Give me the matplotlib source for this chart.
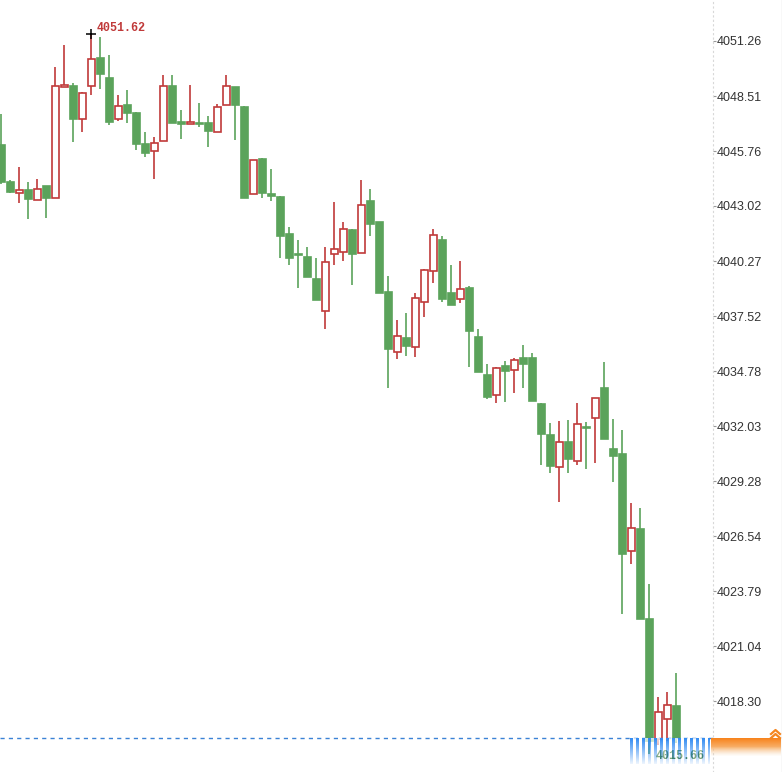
import numpy as np
import matplotlib
matplotlib.use("Agg")
import matplotlib.pyplot as plt

# OHLC (one bar per position)
opens = [4046.07, 4044.24, 4043.66, 4043.82, 4043.31, 4044.00, 4043.43, 4048.95, 4049.01, 4047.38,
         4049.03, 4050.40, 4049.43, 4047.38, 4048.06, 4047.68, 4046.12, 4045.75, 4046.25, 4049.03,
         4047.22, 4047.10, 4047.16, 4047.16, 4046.72, 4048.05, 4048.96, 4047.98, 4043.60, 4045.37,
         4043.63, 4043.47, 4041.62, 4040.60, 4040.46, 4039.37, 4037.79, 4040.61, 4040.74, 4041.82,
         4040.69, 4043.27, 4042.22, 4038.72, 4035.71, 4036.43, 4035.96, 4038.21, 4039.76, 4041.32,
         4038.66, 4038.36, 4038.91, 4036.46, 4034.57, 4033.57, 4035.02, 4034.82, 4035.43, 4035.43,
         4033.13, 4031.59, 4030.00, 4031.22, 4030.27, 4031.98, 4032.42, 4033.92, 4030.89, 4030.64,
         4025.78, 4026.89, 4022.38, 4016.40, 4017.39, 4018.05]
highs = [4047.61, 4044.33, 4044.99, 4044.24, 4044.37, 4044.03, 4049.98, 4051.06, 4049.15, 4048.73,
         4051.62, 4051.47, 4050.56, 4048.56, 4048.81, 4047.73, 4046.73, 4046.45, 4049.56, 4049.56,
         4047.82, 4049.06, 4048.18, 4047.51, 4048.10, 4049.56, 4048.96, 4048.03, 4045.32, 4045.40,
         4044.85, 4043.53, 4041.99, 4041.32, 4040.99, 4040.44, 4040.99, 4043.21, 4042.21, 4041.86,
         4044.32, 4043.87, 4042.22, 4039.52, 4037.33, 4037.66, 4038.69, 4039.89, 4041.89, 4041.52,
         4040.07, 4040.29, 4039.02, 4036.86, 4035.11, 4034.97, 4035.28, 4035.41, 4036.06, 4035.66,
         4033.17, 4032.20, 4032.28, 4032.33, 4033.18, 4032.25, 4033.42, 4035.25, 4032.40, 4031.81,
         4028.17, 4027.93, 4024.13, 4018.52, 4018.75, 4019.72]
lows = [4044.12, 4043.68, 4043.16, 4042.35, 4043.31, 4042.43, 4043.43, 4048.95, 4046.23, 4046.73,
        4048.56, 4048.86, 4047.06, 4047.26, 4047.15, 4045.82, 4045.48, 4044.35, 4046.25, 4047.15,
        4046.35, 4047.10, 4046.98, 4045.95, 4046.72, 4048.05, 4046.32, 4043.43, 4043.60, 4043.43,
        4043.28, 4040.44, 4040.07, 4038.94, 4039.49, 4038.32, 4036.86, 4040.07, 4040.27, 4039.07,
        4040.69, 4041.54, 4038.69, 4033.95, 4035.36, 4035.53, 4035.46, 4037.49, 4039.16, 4038.21,
        4038.09, 4038.16, 4034.97, 4034.75, 4033.38, 4033.17, 4033.22, 4033.67, 4033.92, 4033.30,
        4030.09, 4029.67, 4028.25, 4029.67, 4030.09, 4029.89, 4030.20, 4031.37, 4029.22, 4022.63,
        4025.13, 4022.38, 4015.66, 4016.10, 4016.30, 4016.20]
closes = [4044.22, 4043.74, 4043.82, 4043.36, 4043.87, 4043.43, 4049.01, 4049.06, 4047.38, 4048.65,
          4050.36, 4049.63, 4047.23, 4048.01, 4047.65, 4046.13, 4045.65, 4046.15, 4049.01, 4047.15,
          4047.10, 4047.22, 4047.12, 4046.75, 4047.96, 4049.01, 4048.06, 4043.43, 4045.32, 4043.68,
          4043.53, 4041.54, 4040.44, 4040.55, 4039.49, 4038.32, 4040.21, 4040.89, 4041.86, 4040.64,
          4043.07, 4042.11, 4038.69, 4035.86, 4036.53, 4036.04, 4038.42, 4039.82, 4041.57, 4038.36,
          4038.09, 4038.86, 4036.76, 4034.75, 4033.50, 4034.93, 4034.80, 4035.33, 4035.14, 4033.30,
          4031.65, 4030.05, 4031.22, 4030.37, 4032.12, 4031.91, 4033.42, 4031.37, 4030.55, 4025.63,
          4026.93, 4022.38, 4016.30, 4017.74, 4018.09, 4016.46]

tick_vals = [4051.26, 4048.51, 4045.76, 4043.02, 4040.27, 4037.52, 4034.78,
             4032.03, 4029.28, 4026.54, 4023.79, 4021.04, 4018.30]
tick_labels = ["4051.26", "4048.51", "4045.76", "4043.02", "4040.27", "4037.52", "4034.78",
               "4032.03", "4029.28", "4026.54", "4023.79", "4021.04", "4018.30"]

UP = "#c03a3a"
DOWN = "#5ba35b"

o = np.array(opens)
h = np.array(highs)
l = np.array(lows)
c = np.array(closes)
x = np.arange(len(o))
up = c >= o

W, H = 782, 772
fig = plt.figure(figsize=(W / 100, H / 100), dpi=100)
fig.patch.set_facecolor("white")
ax = fig.add_axes([0, 0, 713 / W, 1])

# wicks
ax.vlines(x, l, h, colors=np.where(up, UP, DOWN), linewidth=1.2, zorder=2)
# bodies: hollow red for up, filled green for down
ax.bar(x, np.abs(c - o), bottom=np.minimum(o, c), width=0.78,
       color=np.where(up, "white", DOWN), edgecolor=np.where(up, UP, DOWN),
       linewidth=1.2, zorder=3)

ax.set_xlim(-0.144, 79.08)
ax.set_ylim(4014.755, 4053.307)

# last price line
ax.axhline(c[-1], color="#3b82d6", linewidth=1, linestyle=(0, (3, 3)), zorder=4)

# high / low markers
ih = int(np.argmax(h))
ax.plot(ih, h[ih], marker="+", color="black", markersize=7, mew=1.1, zorder=5)
ax.annotate(f"{h[ih]:.2f}", (ih, h[ih]), xytext=(5, 6), textcoords="offset pixels",
            color="#c03a3a", fontsize=8.4, fontweight="bold", family="Liberation Mono",
            va="center", ha="left", zorder=5)
il = int(np.argmin(l))
ax.annotate(f"{l[il]:.2f}", (il, l[il]), xytext=(6, -2), textcoords="offset pixels",
            color="#3d7a3d", fontsize=8.4, fontweight="bold", family="Liberation Mono",
            va="center", ha="left", zorder=5)

for side in ["top", "left", "bottom"]:
    ax.spines[side].set_visible(False)
ax.spines["right"].set_color("#d8d8d8")
ax.spines["right"].set_linestyle((0, (1, 3)))
ax.yaxis.tick_right()
ax.set_yticks(tick_vals)
ax.set_yticklabels(tick_labels)
ax.tick_params(axis="y", length=2, width=0.8, color="#999999", pad=1,
               labelsize=9, labelcolor="#333333")
for t in ax.get_yticklabels():
    t.set_family("Liberation Sans")
ax.set_xticks([])
ax.patch.set_alpha(0)

# overlay widget at the bottom edge (pixel coordinates)
ov = fig.add_axes([0, 0, 1, 1], zorder=10)
ov.set_xlim(0, W)
ov.set_ylim(H, 0)
ov.axis("off")

# blue striped gradient block
sw, sh = 80, 26
img = np.zeros((sh, sw, 4))
fade = np.linspace(1.0, 0.1, sh)
for col in range(sw):
    if col % 6 < 3:
        img[:, col, 0] = 0.20
        img[:, col, 1] = 0.55
        img[:, col, 2] = 0.95
        img[:, col, 3] = fade
    else:
        img[:, col, :3] = 1.0
        img[:, col, 3] = 0.6 * fade + 0.15
ov.imshow(img, extent=(630, 710, 764, 738), interpolation="nearest", aspect="auto", zorder=1)

# orange gradient block
oh = 18
oimg = np.zeros((oh, 1, 4))
oimg[:, 0, 0] = 0.97
oimg[:, 0, 1] = np.linspace(0.52, 0.85, oh)
oimg[:, 0, 2] = np.linspace(0.12, 0.70, oh)
oimg[:, 0, 3] = np.concatenate([np.ones(9), np.linspace(0.9, 0.1, oh - 9)])
ov.imshow(oimg, extent=(711, 781, 756, 738), interpolation="bilinear", aspect="auto", zorder=1)
ov.plot([771, 775.5, 780], [734, 730, 734], color="#f5861f", linewidth=1.6, zorder=2)
ov.plot([771, 775.5, 780], [738, 734, 738], color="#f5861f", linewidth=1.6, zorder=2)

# right border
ov.axvline(781.5, color="#dcdcdc", linewidth=1)

fig.savefig("out.png", dpi=100, facecolor="white")
